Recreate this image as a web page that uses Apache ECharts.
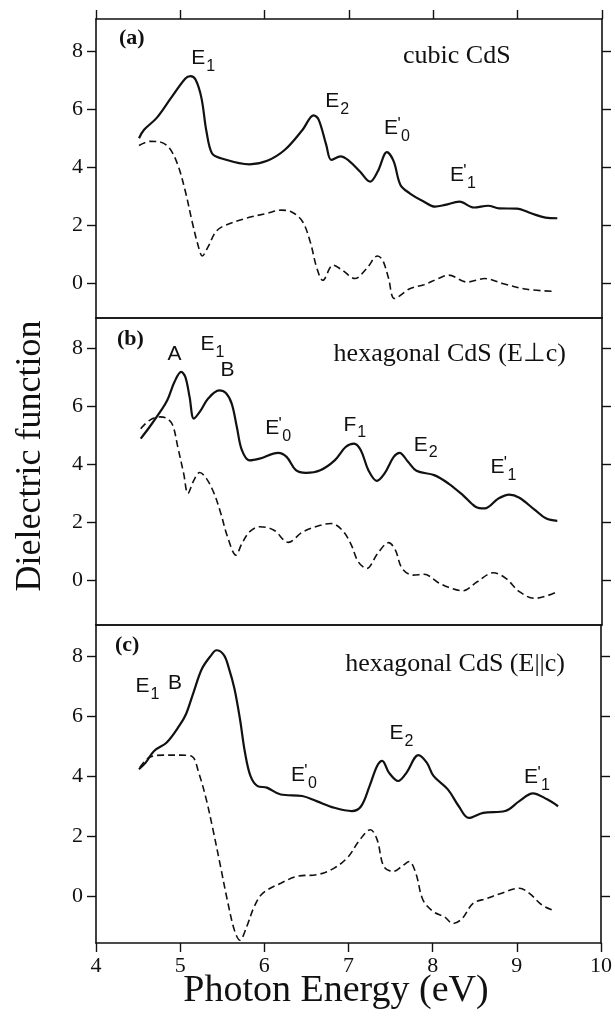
<!DOCTYPE html>
<html>
<head>
<meta charset="utf-8">
<script src="https://cdn.jsdelivr.net/npm/echarts@6/dist/echarts.min.js"></script>
<style>
  html, body { margin: 0; padding: 0; background: #fff; }
  #main { width: 615px; height: 1017px; }
</style>
</head>
<body>
<div id="main"></div>
<script>
// photon energy (eV) vs dielectric function
var xTicks = [4, 5, 6, 7, 8, 9, 10];
var yTicks = [0, 2, 4, 6, 8];

// (a) cubic CdS
var cubicSolid = [[4.51,4.99],[4.57,5.28],[4.72,5.69],[4.89,6.38],[5.06,7.05],[5.12,7.13],[5.18,7.01],[5.25,6.38],[5.31,5.22],[5.375,4.47],[5.48,4.30],[5.82,4.09],[6.03,4.21],[6.24,4.59],[6.45,5.28],[6.58,5.78],[6.64,5.63],[6.73,4.76],[6.79,4.24],[6.90,4.36],[7.00,4.21],[7.13,3.84],[7.25,3.49],[7.34,3.84],[7.45,4.51],[7.53,4.19],[7.61,3.38],[7.72,3.09],[7.89,2.80],[8.02,2.63],[8.14,2.69],[8.31,2.80],[8.48,2.60],[8.65,2.66],[8.78,2.57],[8.99,2.56],[9.16,2.40],[9.33,2.25],[9.47,2.23]];
var cubicDashed = [[4.51,4.74],[4.64,4.88],[4.76,4.86],[4.87,4.65],[4.97,4.07],[5.06,3.15],[5.14,2.11],[5.21,1.30],[5.26,0.93],[5.33,1.25],[5.42,1.76],[5.52,1.97],[5.78,2.23],[6.03,2.40],[6.20,2.51],[6.33,2.43],[6.45,2.11],[6.54,1.42],[6.62,0.50],[6.69,0.09],[6.81,0.61],[6.92,0.44],[7.07,0.15],[7.21,0.50],[7.34,0.93],[7.40,0.78],[7.47,0.15],[7.54,-0.54],[7.72,-0.20],[7.89,-0.06],[8.06,0.15],[8.18,0.27],[8.40,0.03],[8.61,0.15],[8.82,-0.02],[9.11,-0.22],[9.43,-0.29]];

// (b) hexagonal CdS, E perpendicular to c
var perpSolid = [[4.53,4.88],[4.635,5.28],[4.76,5.80],[4.845,6.20],[4.93,6.83],[5.01,7.18],[5.06,7.00],[5.11,6.31],[5.16,5.57],[5.23,5.80],[5.33,6.26],[5.46,6.54],[5.54,6.45],[5.61,6.08],[5.67,5.28],[5.73,4.48],[5.82,4.13],[5.94,4.19],[6.16,4.39],[6.26,4.25],[6.37,3.79],[6.49,3.70],[6.66,3.79],[6.83,4.13],[6.96,4.59],[7.06,4.71],[7.14,4.48],[7.23,3.79],[7.33,3.42],[7.42,3.67],[7.53,4.25],[7.60,4.39],[7.70,4.08],[7.80,3.77],[8.01,3.62],[8.18,3.33],[8.35,2.93],[8.50,2.53],[8.61,2.47],[8.77,2.81],[8.90,2.95],[9.02,2.84],[9.20,2.43],[9.34,2.12],[9.47,2.04]];
var perpDashed = [[4.53,5.22],[4.635,5.51],[4.76,5.63],[4.845,5.57],[4.91,5.34],[4.97,4.59],[5.04,3.67],[5.09,2.99],[5.16,3.44],[5.23,3.71],[5.31,3.50],[5.40,2.99],[5.48,2.30],[5.56,1.49],[5.66,0.86],[5.73,1.26],[5.82,1.66],[5.94,1.84],[6.11,1.72],[6.28,1.30],[6.45,1.66],[6.66,1.89],[6.79,1.95],[6.92,1.72],[7.02,1.26],[7.11,0.63],[7.21,0.40],[7.34,0.92],[7.47,1.29],[7.55,1.03],[7.63,0.40],[7.76,0.17],[7.89,0.20],[8.06,-0.09],[8.18,-0.25],[8.35,-0.37],[8.52,-0.06],[8.71,0.25],[8.86,0.06],[9.02,-0.40],[9.20,-0.63],[9.37,-0.52],[9.47,-0.40]];

// (c) hexagonal CdS, E parallel to c
var paraSolid = [[4.51,4.24],[4.59,4.46],[4.69,4.85],[4.84,5.13],[4.99,5.69],[5.07,6.08],[5.16,6.81],[5.26,7.59],[5.37,8.04],[5.43,8.20],[5.52,8.04],[5.58,7.59],[5.645,6.92],[5.71,5.92],[5.77,4.80],[5.835,4.02],[5.92,3.68],[6.03,3.63],[6.195,3.40],[6.45,3.35],[6.62,3.18],[6.83,2.96],[7.04,2.85],[7.15,3.01],[7.25,3.68],[7.34,4.35],[7.40,4.52],[7.48,4.13],[7.59,3.85],[7.69,4.13],[7.83,4.71],[7.93,4.46],[8.01,4.02],[8.18,3.57],[8.31,3.01],[8.43,2.62],[8.60,2.79],[8.86,2.85],[9.03,3.18],[9.19,3.44],[9.36,3.24],[9.49,3.01]];
var paraDashed = [[4.52,4.30],[4.63,4.63],[4.80,4.71],[5.01,4.71],[5.14,4.67],[5.22,4.13],[5.31,3.24],[5.39,2.23],[5.48,1.00],[5.56,-0.11],[5.645,-1.12],[5.71,-1.45],[5.79,-1.00],[5.88,-0.33],[5.98,0.11],[6.195,0.45],[6.41,0.69],[6.62,0.73],[6.83,0.95],[7.00,1.34],[7.12,1.84],[7.26,2.23],[7.34,1.90],[7.42,1.00],[7.53,0.84],[7.63,1.00],[7.72,1.17],[7.80,0.78],[7.885,-0.11],[8.01,-0.50],[8.14,-0.67],[8.24,-0.89],[8.35,-0.73],[8.48,-0.22],[8.645,-0.06],[8.81,0.11],[9.03,0.28],[9.15,0.11],[9.30,-0.28],[9.43,-0.45]];

// transition labels [x, y, name]; "_" marks a subscript, "'" a prime
var cubicMarks = [[5.27,7.65,"E_1"],[6.86,6.17,"E_2"],[7.57,5.25,"E'_0"],[8.35,3.63,"E'_1"]];
var perpMarks = [[4.93,7.72,"A"],[5.38,8.04,"E_1"],[5.56,7.14,"B"],[6.16,5.14,"E'_0"],[7.07,5.26,"F_1"],[7.91,4.57,"E_2"],[8.83,3.81,"E'_1"]];
var paraMarks = [[4.61,6.92,"E_1"],[4.94,7.03,"B"],[6.47,3.96,"E'_0"],[7.63,5.36,"E_2"],[9.24,3.88,"E'_1"]];

var panelTitles = ["cubic CdS", "hexagonal CdS (E\u22a5c)", "hexagonal CdS (E||c)"];
var panelTags = ["(a)", "(b)", "(c)"];

var chart = echarts.init(document.getElementById('main'));

var ink = '#111';
var serif = '"Liberation Serif", "Times New Roman", serif';
var sans = '"Liberation Sans", Arial, sans-serif';

var grids = [
  { left: 96, width: 506, top: 19, height: 299, yMin: -1.21, yMax: 9.10 },
  { left: 96, width: 506, top: 318, height: 307, yMin: -1.55, yMax: 9.04 },
  { left: 96, width: 506, top: 625, height: 318, yMin: -1.54, yMax: 9.04 }
];

function richName(name) {
  var parts = name.split('_');
  var base = parts[0];
  var out = '';
  if (base.indexOf("'") >= 0) {
    out = '{e|' + base.replace("'", '') + '}{p|\'}';
  } else {
    out = '{e|' + base + '}';
  }
  if (parts[1]) out += '{s|' + parts[1] + '}';
  return out;
}

var axisLine = { show: true, onZero: false, lineStyle: { color: ink, width: 1.6 } };
var xAxes = [], yAxes = [], series = [];

grids.forEach(function (g, i) {
  var last = i === grids.length - 1;
  xAxes.push({
    type: 'value', gridIndex: i, position: 'bottom', min: 4, max: 10, interval: 1,
    axisLine: axisLine,
    axisTick: { show: last, inside: false, length: 9, lineStyle: { color: ink, width: 1.4 } },
    axisLabel: { show: last, margin: 12, color: ink, fontFamily: serif, fontSize: 22 },
    splitLine: { show: false }
  });
  xAxes.push({
    type: 'value', gridIndex: i, position: 'top', min: 4, max: 10, interval: 1,
    axisLine: axisLine,
    axisTick: { show: i === 0, inside: false, length: 9, lineStyle: { color: ink, width: 1.4 } },
    axisLabel: { show: false },
    splitLine: { show: false }
  });
  yAxes.push({
    type: 'value', gridIndex: i, position: 'left', min: g.yMin, max: g.yMax,
    axisLine: axisLine,
    axisTick: { show: true, inside: false, length: 9, customValues: yTicks, lineStyle: { color: ink, width: 1.4 } },
    axisLabel: { show: true, margin: 13, customValues: yTicks, color: ink, fontFamily: serif, fontSize: 22 },
    splitLine: { show: false }
  });
  yAxes.push({
    type: 'value', gridIndex: i, position: 'right', min: g.yMin, max: g.yMax,
    axisLine: axisLine,
    axisTick: { show: true, inside: false, length: 9, customValues: yTicks, lineStyle: { color: ink, width: 1.4 } },
    axisLabel: { show: false },
    splitLine: { show: false }
  });
});

var solids = [cubicSolid, perpSolid, paraSolid];
var dashes = [cubicDashed, perpDashed, paraDashed];
var marks = [cubicMarks, perpMarks, paraMarks];

var richStyles = {
  e: { fontFamily: sans, fontSize: 21, lineHeight: 22, color: ink, textBorderWidth: 0, padding: [0, 0, 5, 0] },
  p: { fontFamily: sans, fontSize: 17, lineHeight: 14, color: ink, textBorderWidth: 0, width: 2, padding: [0, 0, 13, 0] },
  s: { fontFamily: sans, fontSize: 16, lineHeight: 16, color: ink, textBorderWidth: 0, padding: [11, 0, 0, 1] }
};

for (var i = 0; i < 3; i++) {
  series.push({
    type: 'line', xAxisIndex: i * 2, yAxisIndex: i * 2, data: solids[i],
    smooth: 0.35, showSymbol: false, silent: true,
    lineStyle: { color: ink, width: 2.2 }
  });
  series.push({
    type: 'line', xAxisIndex: i * 2, yAxisIndex: i * 2, data: dashes[i],
    smooth: 0.35, showSymbol: false, silent: true,
    lineStyle: { color: ink, width: 1.6, type: [7, 4] }
  });
  series.push({
    type: 'scatter', xAxisIndex: i * 2, yAxisIndex: i * 2, data: marks[i],
    symbolSize: 0, silent: true,
    label: {
      show: true, position: 'inside', color: ink, textBorderWidth: 0, opacity: 1,
      formatter: function (p) { return richName(p.data[2]); },
      rich: richStyles
    }
  });
}

var tagPos = [[119, 38], [117, 339], [115, 645]];
var titlePos = [[403, 56, 'left'], [566, 354, 'right'], [565, 664, 'right']];
var graphic = [];
for (var k = 0; k < 3; k++) {
  graphic.push({
    type: 'text', x: tagPos[k][0], y: tagPos[k][1],
    style: { text: panelTags[k], font: 'bold 22px ' + serif, fill: ink, textAlign: 'left', textVerticalAlign: 'middle' }
  });
  graphic.push({
    type: 'text', x: titlePos[k][0], y: titlePos[k][1],
    style: { text: panelTitles[k], font: '26px ' + serif, fill: ink, textAlign: titlePos[k][2], textVerticalAlign: 'middle' }
  });
}
graphic.push({
  type: 'text', x: 31, y: 456, rotation: Math.PI / 2,
  style: { text: 'Dielectric function', font: '36px ' + serif, fill: ink, textAlign: 'center', textVerticalAlign: 'middle' }
});
graphic.push({
  type: 'text', x: 336, y: 991,
  style: { text: 'Photon Energy (eV)', font: '38px ' + serif, fill: ink, textAlign: 'center', textVerticalAlign: 'middle' }
});

var option = {
  backgroundColor: '#fff',
  animation: false,
  grid: grids.map(function (g) {
    return { left: g.left, width: g.width, top: g.top, height: g.height, containLabel: false };
  }),
  xAxis: xAxes,
  yAxis: yAxes,
  series: series,
  graphic: graphic
};

chart.setOption(option, true);
</script>
</body>
</html>
